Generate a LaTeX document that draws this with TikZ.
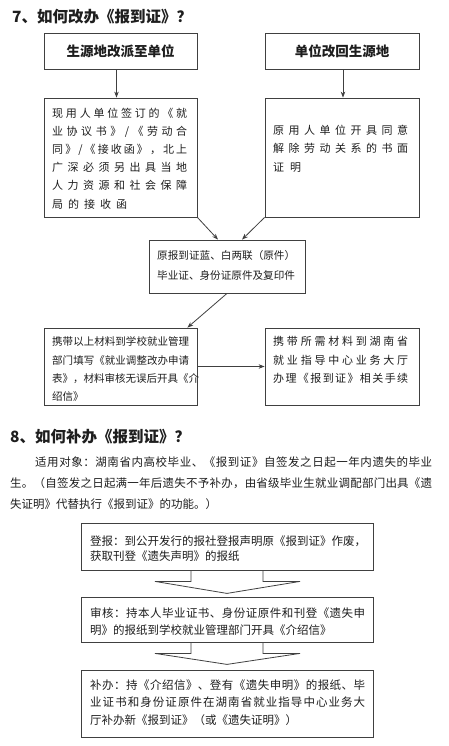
\documentclass[tikz,border=0pt]{standalone}
\usepackage{fontspec}
\setmainfont{Noto Sans CJK SC}
\usetikzlibrary{arrows.meta}
\definecolor{ln}{HTML}{404040}
\definecolor{tx}{HTML}{1E1E1E}
\ExplSyntaxOn
\NewDocumentCommand\sline{mm}{\hbox_to_wd:nn {#1}{\tl_map_inline:nn{#2}{##1\hfil}\unskip}}
\ExplSyntaxOff
\tikzset{
  box/.style={draw=ln, line width=0.8pt, inner sep=0pt, rectangle},
  head/.style={font=\fontsize{13.5}{16}\selectfont\bfseries, text=tx},
  body/.style={inner sep=0pt, anchor=north west, align=left, text=tx},
  conn/.style={draw=ln, line width=0.8pt, -{Stealth[length=6pt,width=4.5pt]}},
  blk/.style={draw=ln, line width=0.8pt},
  ttl/.style={inner sep=0pt, anchor=west, text=tx, font=\fontsize{15.5}{18}\selectfont\bfseries}
}
\begin{document}
\begin{tikzpicture}[x=1pt,y=-1pt]
\useasboundingbox[fill=white] (0,0) rectangle (449,746);
% section 7
\node[ttl] (t7) at (12,17) {7、如何改办《报到证》？};
\node[box, head, minimum width=153pt, minimum height=36pt] (b1) at (120.5,51) {生源地改派至单位};
\node[box, head, minimum width=154pt, minimum height=36pt] (b2) at (342,51) {单位改回生源地};
\node[box, minimum width=153pt, minimum height=119pt] (b3) at (120.5,157.5) {};
\node[box, minimum width=154pt, minimum height=119pt] (b4) at (342,157.5) {};
\node[box, minimum width=156pt, minimum height=53pt] (b5) at (227,266.5) {};
\node[box, minimum width=153pt, minimum height=77pt] (b6) at (120.5,366.5) {};
\node[box, minimum width=154pt, minimum height=77pt] (b7) at (342,366.5) {};
\node[body, font=\fontsize{11}{18.2}\selectfont] (t3) at (52,107.5) {%
\sline{135pt}{现用人单位签订的《就}\\
\sline{135pt}{业协议书》/《劳动合}\\
\sline{135pt}{同》/《接收函》，北上}\\
\sline{135pt}{广深必须另出具当地}\\
\sline{135pt}{人力资源和社会保障}\\
\sline{75pt}{局的接收函}};
\node[body, font=\fontsize{11}{18.5}\selectfont] (t4) at (273,124.5) {%
\sline{135pt}{原用人单位开具同意}\\
\sline{135pt}{解除劳动关系的书面}\\
\sline{28pt}{证明}};
\node[body, font=\fontsize{10.6}{20}\selectfont] (t5) at (157,250.7) {%
\sline{138pt}{原报到证蓝、白两联（原件）}\\
\sline{136pt}{毕业证、身份证原件及复印件}};
\node[body, font=\fontsize{10.5}{18.3}\selectfont] (t6) at (52,336.7) {%
\sline{137pt}{携带以上材料到学校就业管理}\\
\sline{137pt}{部门填写《就业调整改办申请}\\
\sline{137pt}{表》，材料审核无误后开具《介}\\
绍信》};
\node[body, font=\fontsize{11}{18.5}\selectfont] (t7b) at (273,336.5) {%
\sline{135pt}{携带所需材料到湖南省}\\
\sline{135pt}{就业指导中心业务大厅}\\
\sline{135pt}{办理《报到证》相关手续}};
\draw[conn] ([xshift=-4pt]b1.south) -- ([xshift=-4pt]b3.north);
\draw[conn] ([xshift=1pt]b2.south) -- ([xshift=1pt]b4.north);
\draw[conn] (b3.south east) -- ([xshift=-9pt]b5.north);
\draw[conn] (b4.south west) -- ([xshift=15pt]b5.north);
\draw[conn] (b5.south) -- ([xshift=-10pt]b6.north east);
\draw[conn] (b6.east) -- (b7.west);
% section 8
\node[ttl] (t8) at (10,437) {8、如何补办《报到证》？};
\node[body, font=\fontsize{11.5}{21}\selectfont] (p8) at (10,456.2) {%
\hspace*{25pt}\sline{397pt}{适用对象：湖南省内高校毕业、《报到证》自签发之日起一年内遗失的毕业}\\
\sline{422pt}{生。（自签发之日起满一年后遗失不予补办，由省级毕业生就业调配部门出具《遗}\\
失证明》代替执行《报到证》的功能。）};
\node[box, minimum width=292pt, minimum height=47pt] (ba) at (227,546.5) {};
\node[box, minimum width=292pt, minimum height=45pt] (bb) at (227,619.5) {};
\node[box, minimum width=292pt, minimum height=67pt] (bc) at (227,703.5) {};
\node[body, font=\fontsize{11.5}{15.2}\selectfont] (ta) at (90,535.8) {%
\sline{273pt}{登报：到公开发行的报社登报声明原《报到证》作废，}\\
获取刊登《遗失声明》的报纸};
\node[body, font=\fontsize{11.5}{17}\selectfont] (tb) at (90,607.3) {%
\sline{275pt}{审核：持本人毕业证书、身份证原件和刊登《遗失申}\\
明》的报纸到学校就业管理部门开具《介绍信》};
\node[body, font=\fontsize{11.5}{17.5}\selectfont] (tc) at (90,679.3) {%
\sline{275pt}{补办：持《介绍信》、登有《遗失申明》的报纸、毕}\\
\sline{275pt}{业证书和身份证原件在湖南省就业指导中心业务大}\\
厅补办新《报到证》（或《遗失证明》）};
\draw[blk] ([xshift=-36pt]ba.south) -- ++(0,11) -- ++(-36,0) -- ++(72,12) -- ++(73,-12) -- ++(-37,0) -- ++(0,-11);
\draw[blk] ([xshift=-36pt]bb.south) -- ++(0,11) -- ++(-36,0) -- ++(72,11) -- ++(73,-11) -- ++(-37,0) -- ++(0,-11);
\end{tikzpicture}
\end{document}
